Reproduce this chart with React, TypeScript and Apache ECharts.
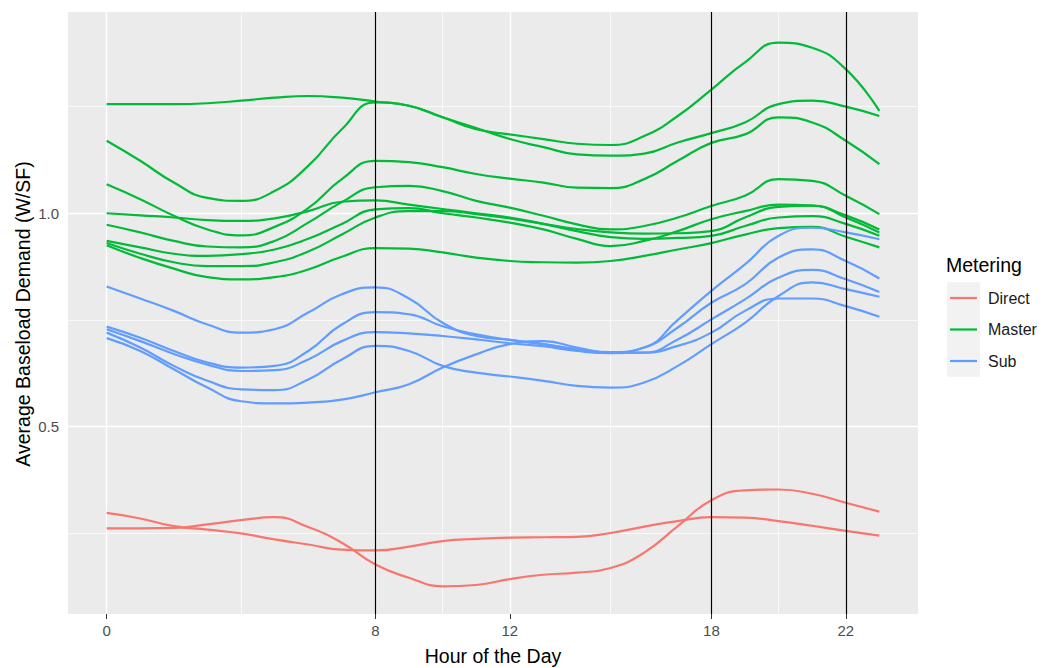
import React, { useEffect, useRef } from "react";
import * as echarts from "echarts";

// ---- data ----
const hours = [0, 1, 2, 3, 4, 5, 6, 7, 8, 9, 10, 11, 12, 13, 14, 15, 16, 17, 18, 19, 20, 21, 22, 23];

const directA = [0.297, 0.284, 0.266, 0.258, 0.249, 0.235, 0.223, 0.211, 0.209, 0.218, 0.231, 0.236, 0.239, 0.240, 0.241, 0.250, 0.265, 0.278, 0.287, 0.286, 0.278, 0.267, 0.255, 0.244];
const directB = [0.261, 0.261, 0.262, 0.270, 0.280, 0.287, 0.264, 0.227, 0.176, 0.145, 0.125, 0.128, 0.142, 0.152, 0.157, 0.168, 0.204, 0.266, 0.327, 0.350, 0.352, 0.342, 0.321, 0.300];

const masterA = [1.170, 1.123, 1.072, 1.036, 1.029, 1.052, 1.111, 1.197, 1.260, 1.252, 1.225, 1.197, 1.185, 1.174, 1.163, 1.160, 1.181, 1.228, 1.290, 1.354, 1.400, 1.388, 1.338, 1.240];
const masterB = [1.256, 1.256, 1.256, 1.258, 1.264, 1.271, 1.275, 1.271, 1.262, 1.252, 1.225, 1.200, 1.174, 1.155, 1.138, 1.135, 1.140, 1.166, 1.188, 1.213, 1.256, 1.264, 1.250, 1.228];
const masterC = [1.068, 1.033, 0.994, 0.962, 0.948, 0.968, 1.012, 1.080, 1.123, 1.120, 1.108, 1.092, 1.081, 1.072, 1.060, 1.059, 1.080, 1.123, 1.165, 1.185, 1.225, 1.213, 1.170, 1.115];
const masterD = [0.973, 0.955, 0.935, 0.922, 0.920, 0.935, 0.978, 1.026, 1.061, 1.064, 1.052, 1.029, 1.013, 0.994, 0.974, 0.962, 0.970, 0.990, 1.017, 1.041, 1.080, 1.076, 1.041, 0.998];
const masterE = [1.000, 0.995, 0.990, 0.984, 0.982, 0.988, 1.005, 1.027, 1.030, 1.020, 1.010, 1.000, 0.990, 0.975, 0.958, 0.944, 0.940, 0.942, 0.947, 0.970, 0.990, 0.993, 0.975, 0.947];
const masterF = [0.935, 0.920, 0.905, 0.900, 0.904, 0.915, 0.940, 0.975, 1.009, 1.012, 1.000, 0.990, 0.978, 0.962, 0.940, 0.923, 0.935, 0.958, 0.986, 1.005, 1.020, 1.018, 0.995, 0.962];
const masterG = [0.930, 0.905, 0.885, 0.876, 0.876, 0.885, 0.910, 0.950, 0.990, 1.005, 1.005, 0.998, 0.988, 0.975, 0.963, 0.955, 0.952, 0.953, 0.958, 0.990, 1.015, 1.018, 0.990, 0.955];
const masterH = [0.925, 0.895, 0.870, 0.850, 0.845, 0.850, 0.868, 0.898, 0.918, 0.917, 0.908, 0.896, 0.888, 0.885, 0.884, 0.888, 0.900, 0.915, 0.930, 0.950, 0.965, 0.968, 0.945, 0.920];

const subA = [0.828, 0.800, 0.771, 0.739, 0.720, 0.728, 0.767, 0.810, 0.826, 0.800, 0.743, 0.712, 0.703, 0.693, 0.681, 0.674, 0.685, 0.750, 0.818, 0.880, 0.947, 0.966, 0.955, 0.939];
const subB = [0.734, 0.708, 0.677, 0.650, 0.638, 0.642, 0.677, 0.739, 0.768, 0.763, 0.735, 0.716, 0.703, 0.693, 0.681, 0.673, 0.685, 0.732, 0.790, 0.833, 0.896, 0.915, 0.888, 0.847];
const subC = [0.728, 0.700, 0.670, 0.645, 0.630, 0.632, 0.657, 0.700, 0.721, 0.718, 0.712, 0.704, 0.695, 0.688, 0.677, 0.672, 0.673, 0.704, 0.751, 0.798, 0.849, 0.867, 0.845, 0.815];
const subD = [0.720, 0.685, 0.642, 0.607, 0.587, 0.585, 0.610, 0.657, 0.689, 0.677, 0.642, 0.626, 0.617, 0.607, 0.595, 0.591, 0.603, 0.642, 0.693, 0.743, 0.806, 0.838, 0.822, 0.804];
const subE = [0.707, 0.677, 0.634, 0.591, 0.559, 0.554, 0.556, 0.563, 0.580, 0.599, 0.638, 0.669, 0.693, 0.700, 0.685, 0.673, 0.673, 0.689, 0.720, 0.771, 0.800, 0.800, 0.782, 0.757];

const groupNames = ["Direct", "Master", "Sub"];
const groupColors = ["#F8766D", "#00BA38", "#619CFF"];
const groupLines = [
  [directA, directB],
  [masterA, masterB, masterC, masterD, masterE, masterF, masterG, masterH],
  [subA, subB, subC, subD, subE],
];

const xTicks = [0, 8, 12, 18, 22];
const xMinor = [4, 10, 15, 20];
const yTicks = [0.5, 1.0];
const yMinor = [0.25, 0.75, 1.25];
const peakHours = [8, 18, 22];

const FONT = "'Liberation Sans', Arial, sans-serif";

export default function App() {
  const ref = useRef<HTMLDivElement>(null);

  useEffect(() => {
    const chart = echarts.init(ref.current!, null, { renderer: "svg" });

    const lineSeries: any[] = [];
    groupLines.forEach((lines, gi) => {
      lines.forEach((arr) => {
        lineSeries.push({
          type: "line",
          name: groupNames[gi],
          data: hours.map((h, i) => [h, arr[i]]),
          smooth: true,
          showSymbol: false,
          symbol: "none",
          silent: true,
          z: 3,
          lineStyle: { color: groupColors[gi], width: 2.2 },
          itemStyle: { color: groupColors[gi] },
        });
      });
    });

    const gridSeries = {
      type: "line",
      data: [],
      silent: true,
      z: 1,
      markLine: {
        silent: true,
        z: 1,
        symbol: ["none", "none"],
        label: { show: false },
        emphasis: { disabled: true },
        data: [
          ...xTicks.map((v) => ({ xAxis: v, lineStyle: { color: "#FFFFFF", width: 1.4, type: "solid" } })),
          ...xMinor.map((v) => ({ xAxis: v, lineStyle: { color: "#FFFFFF", width: 0.7, type: "solid" } })),
          ...yTicks.map((v) => ({ yAxis: v, lineStyle: { color: "#FFFFFF", width: 1.4, type: "solid" } })),
          ...yMinor.map((v) => ({ yAxis: v, lineStyle: { color: "#FFFFFF", width: 0.7, type: "solid" } })),
        ],
      },
    };

    const vlineSeries = {
      type: "line",
      data: [],
      silent: true,
      z: 5,
      markLine: {
        silent: true,
        z: 5,
        symbol: ["none", "none"],
        label: { show: false },
        emphasis: { disabled: true },
        data: peakHours.map((v) => ({ xAxis: v, lineStyle: { color: "#000000", width: 1.2, type: "solid" } })),
      },
    };

    const legendItems: any[] = [
      {
        type: "text",
        x: 946,
        y: 265,
        style: { text: "Metering", fontSize: 19.5, fontFamily: FONT, fill: "#000", verticalAlign: "middle", align: "left" },
      },
    ];
    groupNames.forEach((n, i) => {
      const cy = 298 + i * 31.5;
      legendItems.push({
        type: "rect",
        shape: { x: 947, y: cy - 15.75, width: 33, height: 31.5 },
        style: { fill: "#F2F2F2" },
      });
      legendItems.push({
        type: "line",
        shape: { x1: 950, y1: cy, x2: 977, y2: cy },
        style: { stroke: groupColors[i], lineWidth: 2.2 },
      });
      legendItems.push({
        type: "text",
        x: 988,
        y: cy,
        style: { text: n, fontSize: 16, fontFamily: FONT, fill: "#1a1a1a", verticalAlign: "middle", align: "left" },
      });
    });

    const option: any = {
      animation: false,
      backgroundColor: "#FFFFFF",
      textStyle: { fontFamily: FONT },
      grid: {
        left: 68,
        top: 12,
        width: 850,
        height: 602,
        show: true,
        backgroundColor: "#EBEBEB",
        borderWidth: 0,
        containLabel: false,
        outerBoundsMode: "none",
      },
      xAxis: {
        type: "value",
        min: -1.15,
        max: 24.15,
        axisLine: { show: false },
        splitLine: { show: false },
        axisTick: { show: true, customValues: xTicks, length: 5, lineStyle: { color: "#333333", width: 1 } },
        axisLabel: {
          show: true,
          customValues: xTicks,
          margin: 9,
          color: "#4D4D4D",
          fontSize: 15,
          fontFamily: FONT,
          formatter: (v: number) => String(v),
        },
      },
      yAxis: {
        type: "value",
        min: 0.06,
        max: 1.472,
        axisLine: { show: false },
        splitLine: { show: false },
        axisTick: { show: true, customValues: yTicks, length: 5, lineStyle: { color: "#333333", width: 1 } },
        axisLabel: {
          show: true,
          customValues: yTicks,
          margin: 9,
          color: "#4D4D4D",
          fontSize: 15,
          fontFamily: FONT,
          formatter: (v: number) => v.toFixed(1),
        },
      },
      series: [gridSeries, ...lineSeries, vlineSeries],
      graphic: [
        {
          type: "text",
          x: 493,
          y: 656,
          style: { text: "Hour of the Day", fontSize: 19.5, fontFamily: FONT, fill: "#000", align: "center", verticalAlign: "middle" },
        },
        {
          type: "text",
          x: 23,
          y: 314,
          rotation: Math.PI / 2,
          style: { text: "Average Baseload Demand (W/SF)", fontSize: 19.5, fontFamily: FONT, fill: "#000", align: "center", verticalAlign: "middle" },
        },
        ...legendItems,
      ],
    };

    chart.setOption(option);
    return () => chart.dispose();
  }, []);

  return (
    <div
      ref={ref}
      style={{ position: "fixed", left: 0, top: 0, width: 1043, height: 668, background: "#FFFFFF" }}
    />
  );
}
